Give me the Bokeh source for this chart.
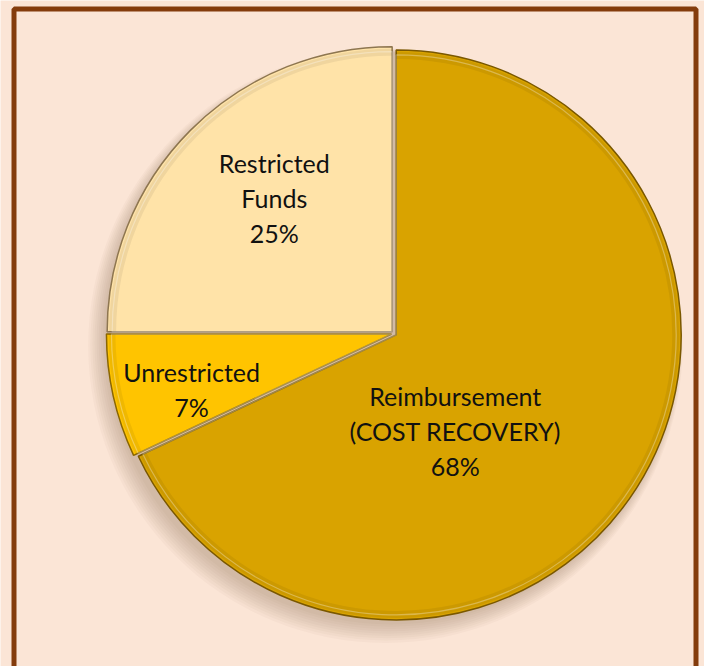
import math
from bokeh.plotting import figure
from bokeh.models import ColumnDataSource
from bokeh.core.properties import value
from bokeh.embed import file_html
from bokeh.resources import INLINE

# ---- data ----
categories = ["Reimbursement\n(COST RECOVERY)", "Unrestricted", "Restricted\nFunds"]
percents = [68, 7, 25]
colors = ["#D9A300", "#FFC400", "#FFE3A8"]
edge_colors = ["#7A5800", "#8A6600", "#8E7650"]

# ---- layout ----
W, H = 704, 666
CX, CY = 393.5, 333.0   # pie centre (data px)
R = 285
EXPLODE = 2.6
label_r = [115, 210, 181]
label_angle = [-57.8, 195.5, 131.4]
BG = "#FBE5D6"
FRAME = "#843C0C"

p = figure(width=W, height=H, x_range=(0, W), y_range=(0, H),
           output_backend="svg", toolbar_location=None,
           min_border=0, background_fill_color=BG, border_fill_color=BG)
p.axis.visible = False
p.grid.visible = False
p.outline_line_color = None

# soft shadow behind pie (down-left)
for k in range(9):
    p.circle(x=CX - 3 - k * 0.7, y=CY - 5 - k * 0.9, radius=R + 1 + k * 1.4,
             fill_color="#6b4a30", fill_alpha=0.035, line_color=None)

total = sum(percents)
starts, ends, xs, ys, lx, ly, texts = [], [], [], [], [], [], []
a = math.pi / 2
for i, v in enumerate(percents):
    sweep = 2 * math.pi * v / total
    s, e = a, a - sweep
    mid = (s + e) / 2
    starts.append(s)
    ends.append(e)
    xs.append(CX + EXPLODE * math.cos(mid))
    ys.append(CY + EXPLODE * math.sin(mid))
    ang = math.radians(label_angle[i])
    lx.append(CX + label_r[i] * math.cos(ang))
    ly.append(CY + label_r[i] * math.sin(ang))
    texts.append(f"{categories[i]}\n{v}%")
    a = e

src = ColumnDataSource(dict(x=xs, y=ys, start=starts, end=ends, color=colors,
                            edge=edge_colors, lx=lx, ly=ly, text=texts))

p.wedge(x="x", y="y", radius=R, start_angle="start", end_angle="end",
        direction="clock", fill_color="color", line_color="edge",
        line_width=1.5, source=src)
# bevel suggestion: darker rim band and a highlight line
p.annular_wedge(x="x", y="y", inner_radius=R - 9, outer_radius=R - 2,
                start_angle="start", end_angle="end", direction="clock",
                fill_color="#000000", fill_alpha=0.06, line_color=None, source=src)
p.wedge(x="x", y="y", radius=R - 5, start_angle="start", end_angle="end",
        direction="clock", fill_color=None, line_color="#FFFFFF",
        line_alpha=0.3, line_width=1.2, source=src)

p.text(x="lx", y="ly", text="text", source=src, text_align="center",
       text_baseline="middle", text_font=value("Lato"), text_font_size="25px",
       text_line_height=1.16, text_color="#111111")

# frame
p.quad(left=13.5, right=695.5, top=657.5, bottom=-20, fill_color=None,
       line_color=FRAME, line_width=5)

html = file_html(p, INLINE)
html = html.replace("<body>", f'<body style="background:{BG}">', 1)
open("out.html", "w").write(html)
